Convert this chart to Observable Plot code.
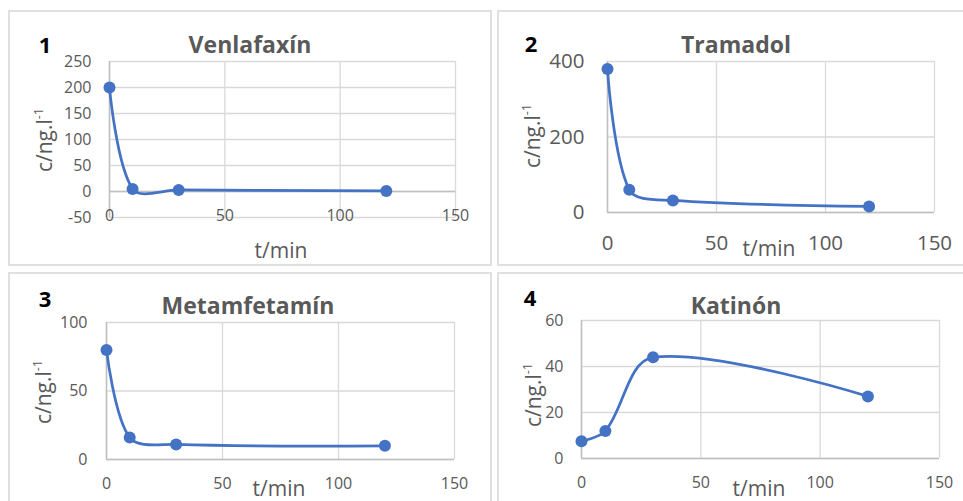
<!DOCTYPE html>
<html><head><meta charset="utf-8">
<script src="https://cdn.jsdelivr.net/npm/d3@7"></script>
<script src="https://cdn.jsdelivr.net/npm/@observablehq/plot@0.6"></script>
<style>
body{margin:0;background:#fff;}
#wrap{position:relative;width:963px;height:501px;overflow:hidden;font-family:"Open Sans",sans-serif;color:#595959;}
.box{position:absolute;border:2px solid #e0e0e0;box-sizing:border-box;}
.lbl{position:absolute;white-space:nowrap;transform:translate(-50%,-50%);line-height:1;}
.num{font-weight:bold;color:#000;font-size:22px;}
.ttl{font-weight:bold;font-size:23px;}
.xt{font-size:21px;}
.yt{font-size:21px;transform:translate(-50%,-50%) rotate(-90deg);}
.yt sup{font-size:0.6em;vertical-align:0.7em;line-height:0;}
.pl{position:absolute;}
</style></head>
<body><div id="wrap"></div>
<script>
// ---- data ----
const timeMin = [0, 10, 30, 120];
const venlafaxin = [200, 5, 3, 1];
const tramadol = [380, 60, 32, 16];
const metamfetamin = [80, 16, 11, 10];
const katinon = [7.5, 12, 44, 27];
const titles = ["Venlafaxín", "Tramadol", "Metamfetamín", "Katinón"];
const panelNumbers = ["1", "2", "3", "4"];
const xTicks = [0, 50, 100, 150];
const yTicks1 = [-50, 0, 50, 100, 150, 200, 250];
const yTicks2 = [0, 200, 400];
const yTicks3 = [0, 50, 100];
const yTicks4 = [0, 20, 40, 60];
const xLabel = "t/min";
const yLabel = "c/ng.l";

// Excel-like smoothed line: Bezier with tangents from neighbours, arms weighted by segment length
function excelSmooth(context) {
  let pts;
  const dist = (a, b) => Math.hypot(a[0] - b[0], a[1] - b[1]);
  return {
    areaStart() {}, areaEnd() {},
    lineStart() { pts = []; },
    point(x, y) { pts.push([+x, +y]); },
    lineEnd() {
      const n = pts.length;
      if (!n) return;
      context.moveTo(pts[0][0], pts[0][1]);
      for (let i = 0; i < n - 1; i++) {
        const p1 = pts[i], p2 = pts[i + 1];
        const d12 = dist(p1, p2);
        let c1 = p1, c2 = p2;
        if (i > 0) {
          const p0 = pts[i - 1], d01 = dist(p0, p1);
          const s = d12 / (d01 + d12) / 3;
          c1 = [p1[0] + (p2[0] - p0[0]) * s, p1[1] + (p2[1] - p0[1]) * s];
        }
        if (i + 2 < n) {
          const p3 = pts[i + 2], d23 = dist(p2, p3);
          const s = d12 / (d12 + d23) / 3;
          c2 = [p2[0] - (p3[0] - p1[0]) * s, p2[1] - (p3[1] - p1[1]) * s];
        }
        context.bezierCurveTo(c1[0], c1[1], c2[0], c2[1], p2[0], p2[1]);
      }
    }
  };
}

const wrap = document.getElementById("wrap");

function addDiv(cls, x, y, html) {
  const d = document.createElement("div");
  d.className = cls;
  d.style.left = x + "px"; d.style.top = y + "px";
  d.innerHTML = html;
  wrap.appendChild(d);
  return d;
}

function panel(cfg) {
  const [bx0, by0, bx1, by1] = cfg.box;
  const b = document.createElement("div");
  b.className = "box";
  b.style.left = bx0 + "px"; b.style.top = by0 + "px";
  b.style.width = (bx1 - bx0) + "px"; b.style.height = (by1 - by0) + "px";
  wrap.appendChild(b);

  const [ax0, ay0, ax1, ay1] = cfg.area;
  const data = timeMin.map((t, i) => ({t, c: cfg.values[i]}));
  const plot = Plot.plot({
    width: bx1 - bx0, height: by1 - by0,
    marginLeft: ax0 - bx0, marginRight: bx1 - ax1,
    marginTop: ay0 - by0, marginBottom: by1 - ay1,
    x: {domain: [0, 150], axis: null},
    y: {domain: cfg.yDomain, axis: null},
    style: {fontFamily: "Open Sans", color: "#595959", background: "transparent", overflow: "visible"},
    marks: [
      Plot.gridX(xTicks, {stroke: "#d9d9d9", strokeOpacity: 1, strokeWidth: 1.3}),
      Plot.gridY(cfg.yTicks, {stroke: "#d9d9d9", strokeOpacity: 1, strokeWidth: 1.3}),
      Plot.ruleX([0], {stroke: "#bfbfbf", strokeWidth: 1.5}),
      Plot.ruleY([0], {stroke: "#bfbfbf", strokeWidth: 1.5}),
      Plot.axisY(cfg.yTicks, {tickSize: 0, tickPadding: cfg.yPad, fontSize: cfg.tickFont, tickFormat: d => String(d), label: null}),
      Plot.axisX(xTicks, {tickSize: 0, tickPadding: cfg.xPad, lineAnchor: "middle", fontSize: cfg.tickFont, tickFormat: d => String(d), label: null}),
      Plot.line(data, {x: "t", y: "c", curve: excelSmooth, stroke: "#4472c4", strokeWidth: 2.75}),
      Plot.dot(data, {x: "t", y: "c", r: 6, fill: "#4472c4", stroke: "none"})
    ]
  });
  plot.classList.add("pl");
  plot.style.left = bx0 + "px"; plot.style.top = by0 + "px";
  wrap.appendChild(plot);

  addDiv("lbl num", cfg.num[0], cfg.num[1], panelNumbers[cfg.i]);
  addDiv("lbl ttl", cfg.ttl[0], cfg.ttl[1], titles[cfg.i]);
  addDiv("lbl xt", cfg.xt[0], cfg.xt[1], xLabel);
  addDiv("lbl yt", cfg.yt[0], cfg.yt[1], yLabel + "<sup>-1</sup>");
}

panel({i: 0, values: venlafaxin, yDomain: [-50, 250], yTicks: yTicks1,
  box: [8, 10, 492, 266], area: [109, 61, 455, 217], yPad: 18, xPad: -2, tickFont: 16,
  num: [45, 44], ttl: [250, 44], xt: [281, 250], yt: [44, 140]});
panel({i: 1, values: tramadol, yDomain: [0, 400], yTicks: yTicks2,
  box: [497, 10, 977, 266], area: [607, 61, 934, 212], yPad: 23, xPad: 31, tickFont: 20.5,
  num: [531, 43], ttl: [736, 44], xt: [769, 248], yt: [532, 136]});
panel({i: 2, values: metamfetamin, yDomain: [0, 100], yTicks: yTicks3,
  box: [8, 272, 492, 515], area: [106, 322, 454, 459], yPad: 19, xPad: 24, tickFont: 16,
  num: [45, 298], ttl: [248, 305], xt: [279, 488], yt: [43, 392]});
panel({i: 3, values: katinon, yDomain: [0, 60], yTicks: yTicks4,
  box: [497, 272, 977, 515], area: [581, 320, 939, 458], yPad: 18, xPad: 24, tickFont: 16,
  num: [530, 297], ttl: [736, 305], xt: [759, 488], yt: [533, 395]});
</script>
</body></html>
